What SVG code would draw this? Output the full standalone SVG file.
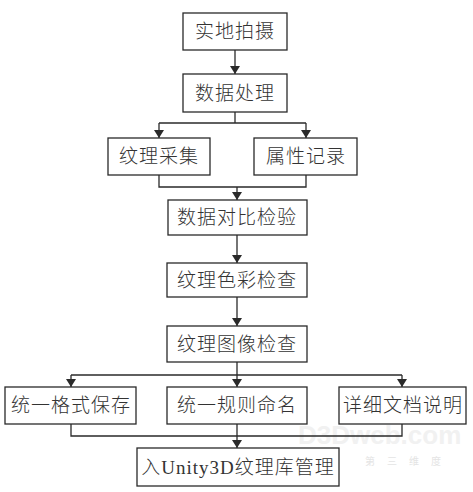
<svg xmlns="http://www.w3.org/2000/svg" width="473" height="492" viewBox="0 0 473 492">
<style>
.box{fill:#fff;stroke:#2a2a2a;stroke-width:1.3}
.t{font-family:"Liberation Serif","Noto Sans CJK SC",serif;font-size:19px;font-weight:300;fill:#333;text-anchor:middle;letter-spacing:1px}
.ln{fill:none;stroke:#2a2a2a;stroke-width:1.3}
.wm{font-family:"Liberation Sans",sans-serif;font-weight:bold;font-size:26px;fill:#f1f1f1}
.wm2{font-family:"Noto Sans CJK SC",sans-serif;font-size:10px;fill:#e4e4e4;letter-spacing:12px}
</style>
<defs>
<marker id="ah" markerWidth="8" markerHeight="10" refX="8" refY="5" orient="auto" markerUnits="userSpaceOnUse">
<path d="M0,0 L8,5 L0,10 Z" fill="#2a2a2a"/>
</marker>
</defs>
<rect width="473" height="492" fill="#fff"/>
<g id="watermark">
<text class="wm" x="298" y="444">D3Dweb.com</text>
<text class="wm2" x="365" y="465">第三维度</text>
</g>
<g id="connectors">
<line class="ln" x1="235" y1="50" x2="235" y2="74" marker-end="url(#ah)"/>
<line class="ln" x1="235" y1="112" x2="235" y2="123"/>
<line class="ln" x1="159" y1="123" x2="306" y2="123"/>
<line class="ln" x1="159" y1="123" x2="159" y2="138" marker-end="url(#ah)"/>
<line class="ln" x1="306" y1="123" x2="306" y2="138" marker-end="url(#ah)"/>
<polyline class="ln" points="159,175 159,187 306,187 306,175"/>
<line class="ln" x1="237" y1="187" x2="237" y2="200" marker-end="url(#ah)"/>
<line class="ln" x1="237" y1="235" x2="237" y2="263" marker-end="url(#ah)"/>
<line class="ln" x1="237" y1="297" x2="237" y2="326" marker-end="url(#ah)"/>
<line class="ln" x1="237" y1="362" x2="237" y2="387" marker-end="url(#ah)"/>
<line class="ln" x1="71" y1="375" x2="402" y2="375"/>
<line class="ln" x1="71" y1="375" x2="71" y2="387" marker-end="url(#ah)"/>
<line class="ln" x1="402" y1="375" x2="402" y2="387" marker-end="url(#ah)"/>
<polyline class="ln" points="71,424 71,436 402,436 402,424"/>
<line class="ln" x1="237" y1="424" x2="237" y2="448" marker-end="url(#ah)"/>
</g>
<g id="n1"><rect class="box" x="183" y="13" width="104" height="37"/><text class="t" x="235" y="38">实地拍摄</text></g>
<g id="n2"><rect class="box" x="183" y="74" width="104" height="38"/><text class="t" x="235" y="100">数据处理</text></g>
<g id="n3"><rect class="box" x="108" y="138" width="102" height="37"/><text class="t" x="159" y="163">纹理采集</text></g>
<g id="n4"><rect class="box" x="254" y="138" width="103" height="37"/><text class="t" x="306" y="163">属性记录</text></g>
<g id="n5"><rect class="box" x="168" y="200" width="139" height="35"/><text class="t" x="237" y="224">数据对比检验</text></g>
<g id="n6"><rect class="box" x="167" y="263" width="140" height="34"/><text class="t" x="237" y="287">纹理色彩检查</text></g>
<g id="n7"><rect class="box" x="167" y="326" width="140" height="36"/><text class="t" x="237" y="351">纹理图像检查</text></g>
<g id="n8"><rect class="box" x="5" y="387" width="131" height="37"/><text class="t" x="71" y="412">统一格式保存</text></g>
<g id="n9"><rect class="box" x="167" y="387" width="140" height="37"/><text class="t" x="237" y="412">统一规则命名</text></g>
<g id="n10"><rect class="box" x="339" y="387" width="127" height="37"/><text class="t" x="403" y="412">详细文档说明</text></g>
<g id="n11"><rect class="box" x="137" y="448" width="202" height="38"/><text class="t" x="238" y="474">入Unity3D纹理库管理</text></g>
</svg>
